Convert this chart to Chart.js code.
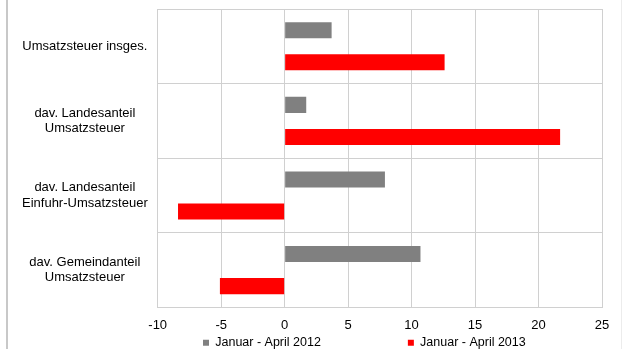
<!DOCTYPE html>
<html>
<head>
<meta charset="utf-8">
<script src="https://cdn.jsdelivr.net/npm/chart.js@4/dist/chart.umd.min.js"></script>
<style>
html,body{margin:0;padding:0;background:#fff;}
#wrap{width:622px;height:349px;position:relative;}
</style>
</head>
<body>
<div id="wrap"><canvas id="c" width="622" height="349"></canvas></div>
<script>
const categories = [
  'Umsatzsteuer insges.',
  ['dav. Landesanteil', 'Umsatzsteuer'],
  ['dav. Landesanteil', 'Einfuhr-Umsatzsteuer'],
  ['dav. Gemeindanteil', 'Umsatzsteuer']
];
const seriesNames = ['Januar - April 2012', 'Januar - April 2013'];
const values2012 = [3.7, 1.7, 7.9, 10.7];
const values2013 = [12.6, 21.7, -8.4, -5.1];
const xTicks = [-10, -5, 0, 5, 10, 15, 20, 25];

const FONT = '"Liberation Sans", Arial, sans-serif';

const framePlugin = {
  id: 'frame',
  beforeDraw(chart) {
    const ctx = chart.ctx;
    ctx.save();
    ctx.fillStyle = '#ffffff';
    ctx.fillRect(0, 0, chart.width, chart.height);
    ctx.fillStyle = '#c8c8c8';
    ctx.fillRect(6, 0, 2, chart.height);
    ctx.fillStyle = '#ececec';
    ctx.fillRect(621, 0, 1, chart.height);
    ctx.restore();
  },
  afterLayout(chart) {
    const l = chart.legend;
    if (!l) return;
    const p = chart.options.plugins.legend.labels.padding;
    l.left = 203 - p;
    l.right = 700;
    l.width = l.right - l.left;
    l.top = 336.5 - p;
    l.bottom = 349;
    l.height = l.bottom - l.top;
  }
};

new Chart(document.getElementById('c'), {
  type: 'bar',
  data: {
    labels: categories,
    datasets: [
      { label: seriesNames[0], data: values2012, backgroundColor: '#808080', borderWidth: 0 },
      { label: seriesNames[1], data: values2013, backgroundColor: '#ff0000', borderWidth: 0 }
    ]
  },
  plugins: [framePlugin],
  options: {
    indexAxis: 'y',
    responsive: false,
    animation: false,
    devicePixelRatio: 1,
    barPercentage: 0.5,
    categoryPercentage: 0.86,
    layout: { padding: { top: 9, right: 20, left: 12, bottom: 0 } },
    scales: {
      x: {
        min: -10, max: 25,
        afterBuildTicks(scale) { scale.ticks = xTicks.map(v => ({ value: v })); },
        grid: { color: '#d0d0d0', lineWidth: 1, drawTicks: false },
        border: { color: '#d0d0d0', width: 1 },
        ticks: { font: { family: FONT, size: 13 }, color: '#000', padding: 10, maxRotation: 0 }
      },
      y: {
        afterFit(scale) { scale.paddingTop = 0; scale.paddingBottom = 0; },
        grid: { color: '#d0d0d0', lineWidth: 1, drawTicks: false, offset: true },
        border: { color: '#d0d0d0', width: 1 },
        ticks: { font: { family: FONT, size: 13 }, color: '#000', padding: 10, crossAlign: 'center' }
      }
    },
    plugins: {
      tooltip: { enabled: false },
      legend: {
        position: 'bottom',
        align: 'start',
        maxHeight: 6,
        labels: {
          boxWidth: 6, boxHeight: 6, padding: 87,
          font: { family: FONT, size: 12.5 }, color: '#000'
        }
      }
    }
  }
});
</script>
</body>
</html>
